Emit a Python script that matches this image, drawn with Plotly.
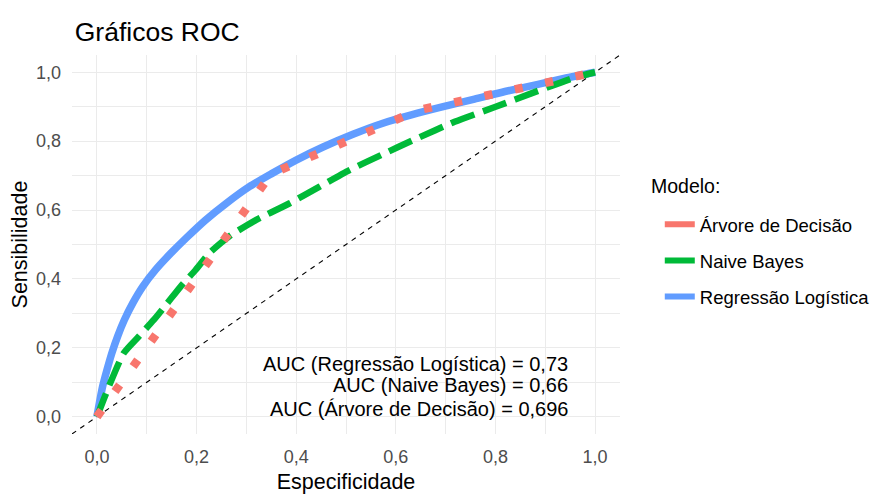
import plotly.graph_objects as go

# ---- data ----
rl_fpr = [0, 0.005, 0.0115, 0.02, 0.030, 0.042, 0.055, 0.072, 0.092, 0.118, 0.148, 0.18,
          0.218, 0.26, 0.306, 0.35, 0.4, 0.454, 0.514, 0.574, 0.633, 0.695, 0.758, 0.819,
          0.883, 0.944, 1.0]
rl_tpr = [0, 0.04, 0.088, 0.135, 0.185, 0.235, 0.281, 0.33, 0.378, 0.427, 0.474, 0.52,
          0.571, 0.62, 0.668, 0.705, 0.745, 0.783, 0.82, 0.852, 0.877, 0.90, 0.922, 0.944,
          0.964, 0.984, 1.0]

nb_fpr = [0, 0.003, 0.024, 0.054, 0.084, 0.114, 0.141, 0.168, 0.198, 0.225, 0.265, 0.319,
          0.386, 0.447, 0.507, 0.571, 0.638, 0.718, 0.799, 0.88, 0.96, 1.0]
nb_tpr = [0, 0.011, 0.088, 0.185, 0.233, 0.281, 0.329, 0.378, 0.426, 0.474, 0.523, 0.571,
          0.619, 0.668, 0.716, 0.76, 0.805, 0.856, 0.899, 0.943, 0.985, 1.0]

ad_fpr = [0, 0.35, 0.645, 1.0]
ad_tpr = [0, 0.705, 0.89, 1.0]

diag = [-0.05, 1.05]

models = ["Árvore de Decisão", "Naive Bayes", "Regressão Logística"]
colors = ["#F8766D", "#00BA38", "#619CFF"]
auc_labels = ["AUC (Regressão Logística) = 0,73",
              "AUC (Naive Bayes) = 0,66",
              "AUC (Árvore de Decisão) = 0,696"]
auc_y = [0.154, 0.091, 0.024]

x_ticks = [0, 0.2, 0.4, 0.6, 0.8, 1.0]
tick_text = ["0,0", "0,2", "0,4", "0,6", "0,8", "1,0"]

FONT = "Liberation Sans, Arial, sans-serif"
OFF = 8  # page body margin offset

fig = go.Figure()

# reference diagonal
fig.add_trace(go.Scatter(x=diag, y=diag, mode="lines",
                         line=dict(color="black", width=1.1, dash="5px,5px"),
                         showlegend=False, hoverinfo="skip"))

fig.add_trace(go.Scatter(x=rl_fpr, y=rl_tpr, mode="lines", line_shape="spline",
                         line=dict(color=colors[2], width=7.5, smoothing=0.6), showlegend=False))
fig.add_trace(go.Scatter(x=nb_fpr, y=nb_tpr, mode="lines", line_shape="spline",
                         line=dict(color=colors[1], width=6.5, dash="25px,9px", smoothing=0.6),
                         showlegend=False))
fig.add_trace(go.Scatter(x=ad_fpr, y=ad_tpr, mode="lines",
                         line=dict(color=colors[0], width=8.5, dash="8px,23px"), showlegend=False))

# legend entries (solid keys)
for i, (m, c) in enumerate(zip(models, colors)):
    fig.add_trace(go.Scatter(x=[None], y=[None], mode="lines", name=m,
                             line=dict(color=c, width=6), legendgroup=m, legendrank=i + 1))

for txt, yy in zip(auc_labels, auc_y):
    fig.add_annotation(x=0.95, y=yy, xref="x", yref="y", text=txt, showarrow=False,
                       xanchor="right", yanchor="middle",
                       font=dict(family=FONT, size=20, color="black"))

# legend title
fig.add_annotation(x=(649 - 72) / 548, y=(434 - 186) / 379, xref="paper", yref="paper",
                   text="Modelo:", showarrow=False, xanchor="left", yanchor="middle",
                   font=dict(family=FONT, size=19.5, color="black"))

fig.update_layout(
    width=879 - OFF, height=494 - OFF,
    paper_bgcolor="white", plot_bgcolor="white",
    margin=dict(l=72 - OFF, r=259, t=55 - OFF, b=60, autoexpand=False),
    font=dict(family=FONT, color="#4D4D4D"),
    title=dict(text="Gráficos ROC", x=0.005, xref="paper", xanchor="left",
               y=1 - (32 - OFF) / (494 - OFF), yref="container", yanchor="middle",
               font=dict(family=FONT, size=26.5, color="black")),
    legend=dict(x=1.0726, xanchor="left", y=0.602, yanchor="top",
                traceorder="grouped", tracegroupgap=9,
                font=dict(family=FONT, size=18.5, color="black"),
                itemwidth=30, bgcolor="rgba(0,0,0,0)"),
    showlegend=True,
)

fig.update_xaxes(range=[-0.05, 1.05], tickvals=x_ticks, ticktext=tick_text, automargin=False,
                 showgrid=True, gridcolor="#EBEBEB", gridwidth=1.1,
                 minor=dict(dtick=0.1, tick0=0, showgrid=True, gridcolor="#EBEBEB", gridwidth=0.6),
                 zeroline=False, showline=False, ticks="",
                 tickfont=dict(family=FONT, size=18, color="#4D4D4D"),
                 ticklabelstandoff=10,
                 title=dict(text="Especificidade", standoff=8,
                            font=dict(family=FONT, size=21.5, color="black")))
fig.update_yaxes(range=[-0.05, 1.05], tickvals=x_ticks, ticktext=tick_text, automargin=False,
                 showgrid=True, gridcolor="#EBEBEB", gridwidth=1.1,
                 minor=dict(dtick=0.1, tick0=0, showgrid=True, gridcolor="#EBEBEB", gridwidth=0.6),
                 zeroline=False, showline=False, ticks="",
                 tickfont=dict(family=FONT, size=18, color="#4D4D4D"),
                 ticklabelstandoff=10,
                 title=dict(text="Sensibilidade", standoff=4,
                            font=dict(family=FONT, size=21.5, color="black")))

fig.write_html("out.html")
